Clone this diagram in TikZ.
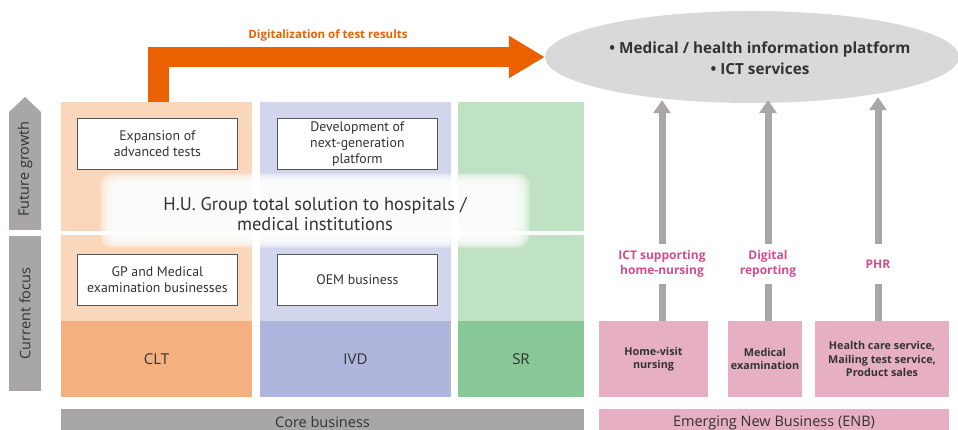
\documentclass[tikz,border=0pt]{standalone}
\usepackage{fontspec}
\setmainfont{Open Sans}
\newfontfamily\narrowfont{PT Sans}
\usepackage{tikz}
\usetikzlibrary{arrows.meta,shapes.geometric,positioning}

\definecolor{cltlight}{HTML}{FAD6BA}
\definecolor{cltdark}{HTML}{F4B07F}
\definecolor{ivdlight}{HTML}{D1D6EC}
\definecolor{ivddark}{HTML}{AEB6DD}
\definecolor{srlight}{HTML}{BFE1C4}
\definecolor{srdark}{HTML}{88C796}
\definecolor{bargray}{HTML}{A8A6A7}
\definecolor{enbpink}{HTML}{E6AFC4}
\definecolor{pinktext}{HTML}{D54C8B}
\definecolor{digiorange}{HTML}{EB6100}
\definecolor{platgray}{HTML}{D9D9D9}
\definecolor{textdark}{HTML}{333333}
\definecolor{boxline}{HTML}{555555}

\begin{document}
\begin{tikzpicture}[x=1pt,y=-1pt,
	cell/.style={anchor=north west,inner sep=0pt,outer sep=0pt,text=textdark},
	whitebox/.style={draw=boxline,line width=0.8pt,fill=white,anchor=north west,minimum width=160pt,minimum height=51pt,inner sep=0pt,align=center,text=textdark,font=\narrowfont\fontsize{13.8}{16}\selectfont},
	pinkbox/.style={cell,fill=enbpink,minimum height=76pt,align=center,font=\bfseries\fontsize{10.8}{13.5}\selectfont},
	pinklbl/.style={text=pinktext,font=\bfseries\fontsize{12}{15}\selectfont,align=center,minimum height=40pt,inner sep=0pt},
	upflow/.style={draw=bargray,line width=7pt,-{Triangle[width=17pt,length=13pt]}},
	stub/.style={draw=bargray,line width=7pt},
	digiarrow/.style={draw=digiorange,line width=20.5pt,line join=miter,-{Triangle[width=40pt,length=36pt]}}]
\useasboundingbox (0,0) rectangle (958,430);

% left side: future growth / current focus
\fill[bargray] (9,230) -- (9,112) -- (25,97) -- (41,112) -- (41,230) -- cycle;
\node[rotate=90,text=textdark,font=\fontsize{14.5}{16}\selectfont] (futText) at (25,169) {Future growth};
\node[cell,fill=bargray,minimum width=32pt,minimum height=155pt] (cur) at (9,236) {};
\node[rotate=90,text=textdark,font=\fontsize{14.5}{16}\selectfont] (curText) at (cur.center) {Current focus};

% core business columns
\node[cell,fill=cltlight,minimum width=191pt,minimum height=129pt] (cltTop) at (61,102) {};
\node[cell,fill=cltlight,minimum width=191pt,minimum height=86pt] (cltMid) at (61,235) {};
\node[cell,fill=cltdark,minimum width=191pt,minimum height=76pt,font=\fontsize{15}{16}\selectfont] (clt) at (61,321) {CLT};
\node[cell,fill=ivdlight,minimum width=191pt,minimum height=129pt] (ivdTop) at (260,102) {};
\node[cell,fill=ivdlight,minimum width=191pt,minimum height=86pt] (ivdMid) at (260,235) {};
\node[cell,fill=ivddark,minimum width=191pt,minimum height=76pt,font=\fontsize{15}{16}\selectfont] (ivd) at (260,321) {IVD};
\node[cell,fill=srlight,minimum width=126pt,minimum height=129pt] (srTop) at (458,102) {};
\node[cell,fill=srlight,minimum width=126pt,minimum height=86pt] (srMid) at (458,235) {};
\node[cell,fill=srdark,minimum width=126pt,minimum height=76pt,font=\fontsize{15}{16}\selectfont] (sr) at (458,321) {SR};

\node[whitebox] (expand) at (77,118) {Expansion of\\advanced tests};
\node[whitebox] (nextgen) at (277,118) {Development of\\next-generation\\platform};
\node[whitebox] (gp) at (77,254) {GP and Medical\\examination businesses};
\node[whitebox] (oem) at (277,254) {OEM business};

% soft white band
\foreach \i in {0,...,17}
	\fill[white,opacity=0.2,rounded corners=12pt] (100+1.2*\i,173+0.8*\i) rectangle (530-1.2*\i,248-0.8*\i);
\node[text=textdark,align=center,font=\narrowfont\fontsize{18.4}{19.5}\selectfont] (total) at (315,214) {H.U. Group total solution to hospitals /\\medical institutions};

\node[cell,fill=bargray,minimum width=523pt,minimum height=27pt,font=\fontsize{14.5}{16}\selectfont] (core) at (61,409) {Core business};

% emerging new business
\node[pinkbox,minimum width=109pt] (home) at (599,321) {Home-visit\\nursing};
\node[pinkbox,minimum width=74pt] (medex) at (728,321) {Medical\\examination};
\node[pinkbox,minimum width=134pt] (health) at (815,321) {Health care service,\\Mailing test service,\\Product sales};
\node[cell,fill=enbpink,minimum width=350pt,minimum height=27pt,font=\fontsize{14.5}{16}\selectfont] (enb) at (599,409) {Emerging New Business (ENB)};

\node[pinklbl] (lblHome) at (662,264) {ICT supporting\\home-nursing};
\node[pinklbl] (lblDig) at (768,264) {Digital\\reporting};
\node[pinklbl] (lblPhr) at (878,264) {PHR};

% platform
\node[ellipse,fill=platgray,minimum width=414pt,minimum height=92pt,inner sep=0pt] (plat) at (752,57) {};
\node[text=textdark,align=center,font=\bfseries\fontsize{15.3}{21}\selectfont] (platText) at (760,58) {• Medical / health information platform\\• ICT services};

\path[stub]
	(lblHome.south) edge (lblHome.south |- home.north)
	(lblDig.south) edge (lblDig.south |- medex.north)
	(lblPhr.south) edge (lblPhr.south |- health.north);
\draw[upflow,shorten >=-3pt] (lblHome.north) -- (lblHome.north |- plat.south);
\draw[upflow,shorten >=-3pt] (lblDig.north) -- (lblDig.north |- plat.south);
\draw[upflow,shorten >=-6pt] (lblPhr.north) -- (lblPhr.north |- plat.south);

% digitalization arrow
\coordinate (digiStart) at (158.5,102);
\draw[digiarrow] (digiStart) |- (plat.west);
\node[text=digiorange,font=\bfseries\fontsize{11.5}{12}\selectfont] (digi) at (328,35) {Digitalization of test results};
\end{tikzpicture}
\end{document}
